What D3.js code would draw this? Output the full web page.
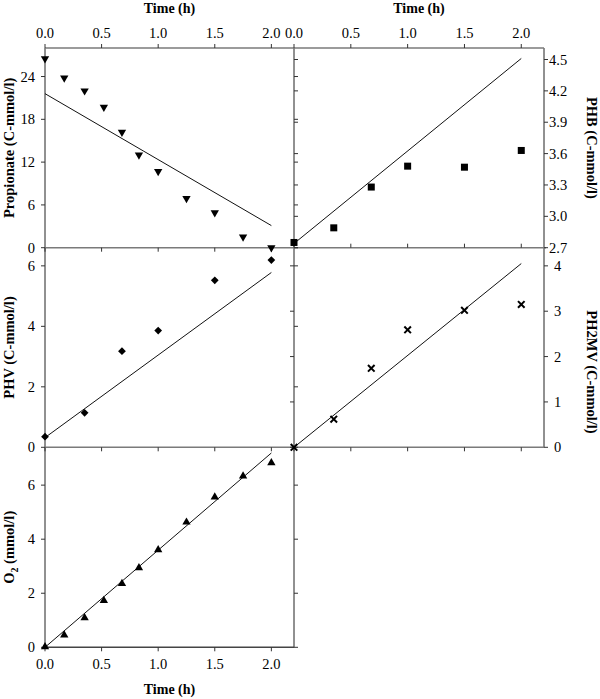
<!DOCTYPE html>
<html><head><meta charset="utf-8">
<script src="https://cdn.jsdelivr.net/npm/d3@7"></script>
<style>body{margin:0;background:#fff}svg{display:block}text{font-family:"Liberation Serif","Times New Roman",serif;fill:#000}</style>
</head><body><svg id="c" width="600" height="699"></svg>
<script>
// ---- data ----
const timeProp = [0, 0.17, 0.35, 0.52, 0.68, 0.83, 1.0, 1.25, 1.5, 1.75, 2.0];
const propionate = [26.5, 23.8, 22.0, 19.7, 16.2, 13.0, 10.7, 6.9, 4.9, 1.5, 0];
const o2 = [0, 0.43, 1.07, 1.71, 2.34, 2.92, 3.59, 4.61, 5.54, 6.32, 6.81];
const timePHA = [0, 0.35, 0.68, 1.0, 1.5, 2.0];
const phb = [2.75, 2.89, 3.28, 3.48, 3.47, 3.63];
const phv = [0.35, 1.14, 3.18, 3.86, 5.52, 6.19];
const ph2mv = [0, 0.62, 1.74, 2.59, 3.02, 3.15];
const fitTime = [0, 2.0];
const propFit = [21.6, 3.1];
const phbFit = [2.74, 4.51];
const phvFit = [0.32, 5.78];
const ph2mvFit = [0, 4.05];
const o2Fit = [0, 7.19];
const timeTicks = [0, 0.5, 1.0, 1.5, 2.0];
const propTicks = [0, 6, 12, 18, 24];
const phbTicks = [2.7, 3.0, 3.3, 3.6, 3.9, 4.2, 4.5];
const phvTicks = [0, 2, 4, 6];
const ph2mvTicks = [0, 1, 2, 3, 4];
const o2Ticks = [0, 2, 4, 6];

const svg = d3.select("#c");
const L0 = 45, MID = 294, R1 = 544;
const Y0 = 48, Y1 = 247.7, Y2 = 447.3, Y3 = 647.3;
const xL = d3.scaleLinear().domain([0, 2.2]).range([L0, MID]);
const xR = d3.scaleLinear().domain([0, 2.2]).range([MID, R1]);
const yProp = d3.scaleLinear().domain([0, 28]).range([Y1, Y0]);
const yPHB = d3.scaleLinear().domain([2.7, 4.61]).range([Y1, Y0]);
const yPHV = d3.scaleLinear().domain([0, 6.6]).range([Y2, Y1]);
const yPH2MV = d3.scaleLinear().domain([0, 4.4]).range([Y2, Y1]);
const yO2 = d3.scaleLinear().domain([0, 7.4]).range([Y3, Y2]);

const TL = 4;
const TICKFS = "14.5px";
const g = svg.append("g");
function hline(x1, x2, y, col) {
  g.append("line").attr("x1", x1).attr("x2", x2).attr("y1", y).attr("y2", y)
   .attr("stroke", col || "#7a7a7a").attr("stroke-width", 1.4);
}
function vline(x, y1, y2) {
  g.append("line").attr("x1", x).attr("x2", x).attr("y1", y1).attr("y2", y2)
   .attr("stroke", "#222").attr("stroke-width", 1);
}
function xticks(scale, y, dir) {
  g.selectAll(null).data(timeTicks).enter().append("line")
   .attr("x1", d => scale(d)).attr("x2", d => scale(d))
   .attr("y1", y).attr("y2", y + dir * TL).attr("stroke", "#333").attr("stroke-width", 1);
}
function yticks(scale, ticks, x, dir) {
  g.selectAll(null).data(ticks).enter().append("line")
   .attr("x1", x).attr("x2", x + dir * TL)
   .attr("y1", d => scale(d)).attr("y2", d => scale(d)).attr("stroke", "#333").attr("stroke-width", 1);
}
function xlabels(scale, y) {
  g.selectAll(null).data(timeTicks).enter().append("text")
   .attr("x", d => scale(d)).attr("y", y).attr("text-anchor", "middle")
   .style("font-size", TICKFS).text(d => d3.format(".1f")(d));
}
function ylabels(scale, ticks, x, anchor, fmt) {
  g.selectAll(null).data(ticks).enter().append("text")
   .attr("x", x).attr("y", d => scale(d) + 5).attr("text-anchor", anchor)
   .style("font-size", TICKFS).text(d => fmt(d));
}

// frame lines
vline(L0, Y0, Y3); vline(MID, Y0, Y3); vline(R1, Y0, Y2);
hline(L0, R1, Y0); hline(L0, R1 + 2, Y1); hline(L0, R1, Y2); hline(L0, MID, Y3, "#444");

// ticks
xticks(xL, Y0, -1); xticks(xR, Y0, -1);
xticks(xL, Y1, 1); xticks(xR, Y1, -1);
xticks(xL, Y2, 1); xticks(xR, Y2, 1);
xticks(xL, Y3, 1);
yticks(yProp, propTicks, L0, -1); yticks(yProp, propTicks, MID, 1);
yticks(yPHB, phbTicks, MID, 1); yticks(yPHB, phbTicks, R1, 1);
yticks(yPHV, phvTicks, L0, -1); yticks(yPHV, phvTicks, MID, 1);
yticks(yPH2MV, ph2mvTicks, MID, -1); yticks(yPH2MV, ph2mvTicks, R1, 1);
yticks(yO2, o2Ticks, L0, -1); yticks(yO2, o2Ticks, MID, 1);

// tick labels
xlabels(xL, 38); xlabels(xR, 38); xlabels(xL, 669);
ylabels(yProp, propTicks, 35, "end", d3.format("d"));
ylabels(yPHV, phvTicks, 35, "end", d3.format("d"));
ylabels(yO2, o2Ticks, 35, "end", d3.format("d"));
ylabels(yPHB, phbTicks, 549, "start", d3.format(".1f"));
ylabels(yPH2MV, ph2mvTicks, 554, "start", d3.format("d"));

// axis titles
function title(x, y, rot, txt, fs) {
  const t = g.append("text").attr("transform", `translate(${x},${y}) rotate(${rot})`)
   .attr("text-anchor", "middle").style("font-size", fs || "14.5px").style("font-weight", "bold");
  return t.text(txt);
}
title((L0 + MID) / 2, 13, 0, "Time (h)", "14px");
title((MID + R1) / 2, 13, 0, "Time (h)", "14px");
title((L0 + MID) / 2, 694, 0, "Time (h)", "14px");
title(14, (Y0 + Y1) / 2, -90, "Propionate (C-mmol/l)");
title(14, (Y1 + Y2) / 2, -90, "PHV (C-mmol/l)");
const o2t = g.append("text").attr("transform", `translate(14,${(Y2 + Y3) / 2}) rotate(-90)`)
  .attr("text-anchor", "middle").style("font-size", "14.5px").style("font-weight", "bold");
o2t.append("tspan").text("O");
o2t.append("tspan").attr("dy", 4).style("font-size", "10px").text("2");
o2t.append("tspan").attr("dy", -4).text(" (mmol/l)");
title(587, (Y0 + Y1) / 2, 90, "PHB (C-mmol/l)");
title(587, 372, 90, "PH2MV (C-mmol/l)");

// fit lines
function fit(xs, ys, ysVals) {
  const line = d3.line().x((d, i) => xs(fitTime[i])).y(d => ys(d));
  g.append("path").attr("d", line(ysVals)).attr("fill", "none").attr("stroke", "#111").attr("stroke-width", 1);
}
fit(xL, yProp, propFit);
fit(xR, yPHB, phbFit);
fit(xL, yPHV, phvFit);
fit(xR, yPH2MV, ph2mvFit);
fit(xL, yO2, o2Fit);

// markers
const tri = d3.symbol().type(d3.symbolTriangle).size(30);
g.selectAll(null).data(propionate).enter().append("path").attr("d", tri)
  .attr("transform", (d, i) => `translate(${xL(timeProp[i])},${yProp(d)}) rotate(180)`).attr("fill", "#000");
g.selectAll(null).data(o2).enter().append("path").attr("d", tri)
  .attr("transform", (d, i) => `translate(${xL(timeProp[i])},${yO2(d) - 0.5})`).attr("fill", "#000");
g.selectAll(null).data(phb).enter().append("rect")
  .attr("x", (d, i) => xR(timePHA[i]) - 3.5).attr("y", d => yPHB(d) - 3.5)
  .attr("width", 7).attr("height", 7).attr("fill", "#000");
const sq = d3.symbol().type(d3.symbolSquare).size(30);
g.selectAll(null).data(phv).enter().append("path").attr("d", sq)
  .attr("transform", (d, i) => `translate(${xL(timePHA[i])},${yPHV(d)}) rotate(45)`).attr("fill", "#000");
const cross = d3.symbol().type(d3.symbolTimes).size(30);
g.selectAll(null).data(ph2mv).enter().append("path").attr("d", cross)
  .attr("transform", (d, i) => `translate(${xR(timePHA[i])},${yPH2MV(d)})`)
  .attr("fill", "none").attr("stroke", "#000").attr("stroke-width", 2);
</script></body></html>
